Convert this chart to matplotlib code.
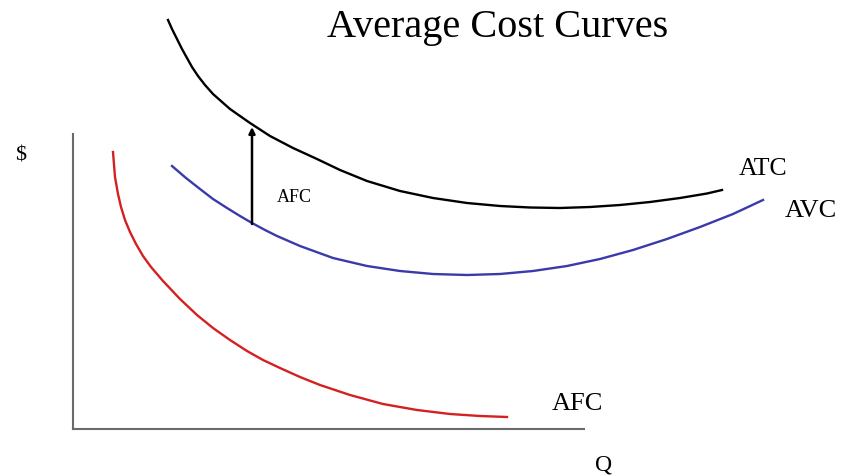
import matplotlib.pyplot as plt

# curve points (pixel-like units, y grows downward)
atc_q = [168, 172, 177, 182, 187, 192, 198, 205, 213, 230, 250, 270, 293, 317, 340,
         367, 400, 433, 467, 500, 530, 560, 590, 620, 650, 680, 707, 722]
atc_c = [21, 30, 40, 50, 59, 68, 77, 86, 95, 110, 124, 137, 149, 160, 171,
         182, 192, 199, 204, 207, 208.5, 209, 208, 206, 203, 199, 194.5, 191]

avc_q = [172, 186, 200, 213, 227, 240, 252, 265, 277, 300, 333, 367, 400, 433, 467,
         500, 533, 567, 600, 633, 667, 700, 733, 763]
avc_c = [167, 179, 190, 200, 209, 217, 224, 231, 237, 247, 259, 267, 272, 275, 276,
         275, 272, 267, 260, 251, 240, 228, 215, 201]

afc_q = [113, 115, 118, 121, 125, 130, 136, 143, 151, 163, 180, 197, 213, 230, 247,
         263, 280, 300, 320, 350, 383, 417, 450, 480, 507]
afc_c = [153, 178, 195, 208, 221, 233, 245, 257, 268, 282, 300, 316, 329, 341, 352,
         361, 369, 378, 386, 396, 405, 411, 415, 417, 418]

# AFC gap arrow (from AVC up to ATC)
gap_q = 252
gap_low, gap_high = 225, 128

fig = plt.figure(figsize=(8.44, 4.77), dpi=100)
ax = fig.add_axes([73 / 844, (477 - 430) / 477, (584 - 73) / 844, (430 - 135) / 477])
ax.set_xlim(73, 584)
ax.set_ylim(430, 135)
for s in ['top', 'right']:
    ax.spines[s].set_visible(False)
for s in ['left', 'bottom']:
    ax.spines[s].set_color('#6a6a6a')
    ax.spines[s].set_linewidth(1.5)
ax.set_xticks([])
ax.set_yticks([])

ax.plot(atc_q, atc_c, color='black', lw=1.7, clip_on=False, solid_joinstyle='round')
ax.plot(avc_q, avc_c, color='#3a3aaa', lw=1.7, clip_on=False, solid_joinstyle='round')
ax.plot(afc_q, afc_c, color='#d42020', lw=1.7, clip_on=False, solid_joinstyle='round')

ax.annotate('', xy=(gap_q, gap_high), xytext=(gap_q, gap_low),
            arrowprops=dict(arrowstyle='-|>', color='black', lw=1.8,
                            mutation_scale=9, shrinkA=0, shrinkB=0),
            annotation_clip=False)

serif = 'Liberation Serif'
kw = dict(family=serif, ha='center', va='baseline', clip_on=False)
ax.text(498, 37, 'Average Cost Curves', fontsize=29, **kw)
ax.text(294, 202, 'AFC', fontsize=13, **kw)
ax.text(763, 175, 'ATC', fontsize=18.5, **kw)
ax.text(811, 217, 'AVC', fontsize=19, **kw)
ax.text(577, 410, 'AFC', fontsize=19, **kw)
ax.text(604, 470, 'Q', fontsize=17, **kw)
ax.text(21, 161, '$', fontsize=16, **kw)

fig.savefig('out.png', dpi=100)
